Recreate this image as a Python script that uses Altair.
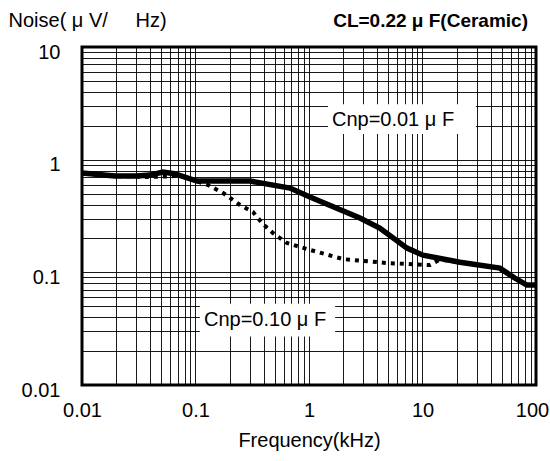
import altair as alt
import pandas as pd

# Cnp = 0.01 uF (solid)
solid_f = [0.01, 0.0195, 0.0305, 0.0397, 0.0517, 0.065, 0.103, 0.302, 0.68, 1.02, 2.81, 4.2, 7.3, 10.1, 21.4, 48, 65, 83, 100]
solid_v = [0.76, 0.716, 0.716, 0.73, 0.776, 0.75, 0.646, 0.646, 0.56, 0.466, 0.303, 0.247, 0.164, 0.142, 0.123, 0.109, 0.089, 0.077, 0.077]

# Cnp = 0.10 uF (dotted)
dotted_f = [0.01, 0.0195, 0.0305, 0.035, 0.06, 0.07, 0.1, 0.129, 0.175, 0.247, 0.321, 0.393, 0.482, 0.64, 0.96, 2.0, 4.86, 11.6, 14.3, 21.4]
dotted_v = [0.76, 0.716, 0.71, 0.70, 0.71, 0.73, 0.65, 0.595, 0.506, 0.396, 0.343, 0.268, 0.223, 0.182, 0.161, 0.131, 0.121, 0.116, 0.13, 0.123]

# annotation labels
label_text = ["Cnp=0.01 μ F", "Cnp=0.10 μ F"]
label_f = [5.5, 0.41]
label_v = [2.25, 0.0377]
box_f1 = [1.47, 0.1094]
box_f2 = [29.6, 1.70]
box_v1 = [1.69, 0.027]
box_v2 = [3.1, 0.0525]

x_ticks = [round(m * 10 ** e, 6) for e in range(-2, 2) for m in range(1, 10)] + [100]
y_ticks = [round(m * 10 ** e, 6) for e in range(-2, 1) for m in range(1, 10)] + [10]
x_major = [0.01, 0.1, 1, 10, 100]
y_major = [0.01, 0.1, 1, 10]

FONT = "Liberation Sans"

solid_df = pd.DataFrame({"f": solid_f, "v": solid_v})
dotted_df = pd.DataFrame({"f": dotted_f, "v": dotted_v})
label_df = pd.DataFrame({"text": label_text, "f": label_f, "v": label_v,
                         "f1": box_f1, "f2": box_f2, "v1": box_v1, "v2": box_v2})

xscale = alt.Scale(type="log", domain=[0.01, 100], nice=False)
yscale = alt.Scale(type="log", domain=[0.01, 10], nice=False)

xaxis = alt.Axis(
    values=x_ticks, format="~g",
    labelExpr="indexof(" + str(x_major) + ", datum.value) >= 0 ? datum.label : ''",
    grid=True, gridColor="black", gridOpacity=0.9, gridWidth=1,
    ticks=False, domain=False, labelOverlap=False, labelFlush=False,
    labelFont=FONT, labelFontSize=20, labelColor="black", labelPadding=15,
    labelOffset={"condition": {"test": "datum.value == 100", "value": -4}, "value": 0},
    title="Frequency(kHz)", titleFont=FONT, titleFontSize=20, titleFontWeight="normal",
    titleColor="black", titlePadding=10,
)
yaxis = alt.Axis(
    values=y_ticks, format="~g",
    labelExpr="indexof(" + str(y_major) + ", datum.value) >= 0 ? datum.label : ''",
    grid=True, gridColor="black", gridOpacity=0.9, gridWidth=1,
    ticks=False, domain=False, labelOverlap=False, labelFlush=False,
    labelFont=FONT, labelFontSize=20, labelColor="black", labelPadding=22, labelOffset=5,
    title="Noise( μ V/\u00a0\u00a0\u00a0\u00a0\u00a0Hz)", titleFont=FONT, titleFontSize=20,
    titleFontWeight="normal", titleColor="black", titleAngle=0, titleAlign="left",
    titleBaseline="middle", titleX=-74, titleY=-27,
)

dotted = alt.Chart(dotted_df).mark_line(
    color="black", strokeWidth=4, strokeDash=[4, 5], strokeCap="butt"
).encode(
    x=alt.X("f:Q", scale=xscale, axis=xaxis),
    y=alt.Y("v:Q", scale=yscale, axis=yaxis),
)

solid = alt.Chart(solid_df).mark_line(color="black", strokeWidth=5.5).encode(
    x=alt.X("f:Q", scale=xscale),
    y=alt.Y("v:Q", scale=yscale),
)

boxes = alt.Chart(label_df).mark_rect(fill="white").encode(
    x=alt.X("f1:Q", scale=xscale), x2="f2:Q",
    y=alt.Y("v1:Q", scale=yscale), y2="v2:Q",
)

texts = alt.Chart(label_df).mark_text(
    font=FONT, fontSize=20, color="black", align="center", baseline="middle"
).encode(
    x=alt.X("f:Q", scale=xscale),
    y=alt.Y("v:Q", scale=yscale),
    text="text:N",
)

chart = alt.layer(dotted, solid, boxes, texts).properties(
    width=454, height=338,
    background="white",
    autosize=alt.AutoSizeParams(type="none"),
    padding={"left": 82, "top": 47, "right": 14, "bottom": 76},
    title=alt.TitleParams(
        "CL=0.22 μ F(Ceramic)", anchor="end", frame="group", font=FONT, fontSize=19,
        fontWeight="bold", color="black", baseline="middle", offset=0, dy=30, dx=-8,
    ),
).configure_view(
    stroke="black", strokeWidth=3
)

chart.save("out.html", embed_options={"renderer": "svg", "actions": False})
